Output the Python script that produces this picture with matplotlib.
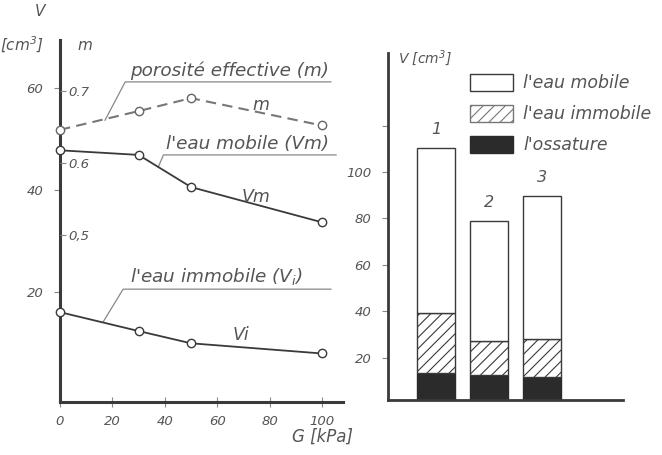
import matplotlib.pyplot as plt
from matplotlib.patches import Patch

# left panel data
G = [0, 30, 50, 100]
m_vals = [0.646, 0.672, 0.690, 0.652]
Vm_vals = [47.8, 46.9, 40.6, 33.7]
Vi_vals = [16.1, 12.4, 10.0, 8.0]
x_ticks = [0, 20, 40, 60, 80, 100]
V_ticks = [20, 40, 60]
m_ticks = [0.5, 0.6, 0.7]
m_ticklabels = ['0,5', '0.6', '0.7']

# right panel data
samples = ['1', '2', '3']
ossature = [13.5, 12.7, 11.8]
immobile = [25.9, 14.6, 16.4]
mobile = [70.9, 51.6, 61.5]
bar_ticks = [20, 40, 60, 80, 100, 120]
bar_ticklabels = ['20', '40', '60', '80', '100', '']

ink = '#3a3a3a'
txt = '#555555'
plt.rcParams['font.family'] = ['DejaVu Sans']
plt.rcParams['font.style'] = 'italic'
plt.rcParams['mathtext.fontset'] = 'dejavusans'
plt.rcParams['hatch.color'] = '#777777'
plt.rcParams['hatch.linewidth'] = 0.8

fig = plt.figure(figsize=(6.62, 4.55), dpi=100)
ax = fig.add_axes([0.0906, 0.1165, 0.4274, 0.7955])
ax.set_xlim(0, 108)
ax.set_ylim(-1.5, 69.4)
for s in ['top', 'right']:
    ax.spines[s].set_visible(False)
for s in ['left', 'bottom']:
    ax.spines[s].set_linewidth(2.2)
    ax.spines[s].set_color(ink)
ax.set_xticks(x_ticks)
ax.set_yticks(V_ticks)
ax.tick_params(axis='x', direction='inout', length=7, width=0.8, colors='#888888',
               labelcolor=txt, labelsize=9.5, pad=6)
ax.tick_params(axis='y', direction='out', length=4, width=0.8, colors='#888888',
               labelcolor=txt, labelsize=9.5, pad=8)

# m axis sharing the left spine, labels inside
ax2 = ax.twinx()
ax2.set_ylim(0.2679, 0.7707)
for s in ['top', 'left', 'bottom']:
    ax2.spines[s].set_visible(False)
ax2.spines['right'].set_position(('axes', 0))
ax2.spines['right'].set_visible(False)
ax2.set_yticks(m_ticks)
ax2.set_yticklabels(m_ticklabels)
ax2.tick_params(axis='y', direction='out', length=4, width=0.8, colors='#888888',
                labelcolor=txt, labelsize=9.5, pad=2)

ax.plot(G, Vm_vals, color=ink, lw=1.3, marker='o', ms=6, mfc='white', mec=ink,
        clip_on=False, zorder=3)
ax.plot(G, Vi_vals, color=ink, lw=1.3, marker='o', ms=6, mfc='white', mec=ink,
        clip_on=False, zorder=3)
ax2.plot(G, m_vals, color='#777777', lw=1.5, ls=(0, (5, 3)), marker='o', ms=6,
         mfc='white', mec='#666666', clip_on=False, zorder=3)

# annotation labels with underline and leader
notes = [
    ("porosité effective (m)", 26.8, 61.6, [17.2, 24.9, 103.4], [53.7, 61.2, 61.2]),
    ("l'eau mobile (Vm)", 40.5, 47.3, [37.5, 39.5, 105.4], [44.5, 46.9, 46.9]),
    ("l'eau immobile ($V_i$)", 26.8, 21.0, [16.5, 24.1, 103.4], [14.2, 20.6, 20.6]),
]
for label, tx, ty, lx, ly in notes:
    ax.text(tx, ty, label, fontsize=13.2, color=txt, va='bottom', ha='left')
    ax.plot(lx, ly, color='#888888', lw=0.9, clip_on=False)

ax.text(76.6, 56.7, 'm', fontsize=12.5, color=txt, ha='center', va='center')
ax.text(74.7, 38.6, 'Vm', fontsize=12.5, color=txt, ha='center', va='center')
ax.text(69.0, 11.6, 'Vi', fontsize=12.5, color=txt, ha='center', va='center')

fig.text(40 / 662, 1 - 12 / 455, 'V', fontsize=11, color=txt, ha='center', va='center')
fig.text(22 / 662, 1 - 45 / 455, '[cm$^3$]', fontsize=11, color=txt, ha='center', va='center')
fig.text(85 / 662, 1 - 45 / 455, 'm', fontsize=11, color=txt, ha='center', va='center')
fig.text(322 / 662, 1 - 437 / 455, 'G [kPa]', fontsize=12, color=txt, ha='center', va='center')

# right panel: stacked bars
bx = fig.add_axes([0.586, 0.1209, 0.355, 0.7626])
pos = [1, 2, 3]
bx.set_xlim(0.094, 4.53)
bx.set_ylim(1.9, 151.2)
for s in ['top', 'right']:
    bx.spines[s].set_visible(False)
for s in ['left', 'bottom']:
    bx.spines[s].set_linewidth(2.0)
    bx.spines[s].set_color(ink)
bx.set_xticks([])
bx.set_yticks(bar_ticks)
bx.set_yticklabels(bar_ticklabels)
bx.tick_params(axis='y', direction='out', length=4, width=0.8, colors='#888888',
               labelcolor=txt, labelsize=9.5, pad=8)

w = 0.72
bx.bar(pos, ossature, width=w, color='#2b2b2b', edgecolor='#2b2b2b', lw=1.0)
bot2 = ossature
bx.bar(pos, immobile, width=w, bottom=bot2, color='white', edgecolor=ink,
       hatch='///', lw=1.0)
bot3 = [a + b for a, b in zip(ossature, immobile)]
bx.bar(pos, mobile, width=w, bottom=bot3, color='white', edgecolor=ink, lw=1.0)
tops = [a + b for a, b in zip(bot3, mobile)]
for p, t, s in zip(pos, tops, samples):
    bx.annotate(s, (p, t), xytext=(0, 8), textcoords='offset points', ha='center',
                va='bottom', fontsize=11.5, color=txt)

handles = [Patch(facecolor='white', edgecolor=ink, lw=1.0),
           Patch(facecolor='white', edgecolor='#777777', hatch='///', lw=1.0),
           Patch(facecolor='#2b2b2b', edgecolor='#2b2b2b', lw=1.0)]
bx.legend(handles, ["l'eau mobile", "l'eau immobile", "l'ossature"],
          loc='upper left', bbox_to_anchor=(0.318, 0.96), frameon=False,
          fontsize=12.5, handlelength=2.5, handleheight=1.15, labelspacing=0.72,
          handletextpad=0.6, borderaxespad=0, labelcolor=txt)

fig.text(398 / 662, 1 - 58 / 455, 'V [cm$^3$]', fontsize=10, color=txt, ha='left', va='center')

fig.savefig('out.png', dpi=100)
